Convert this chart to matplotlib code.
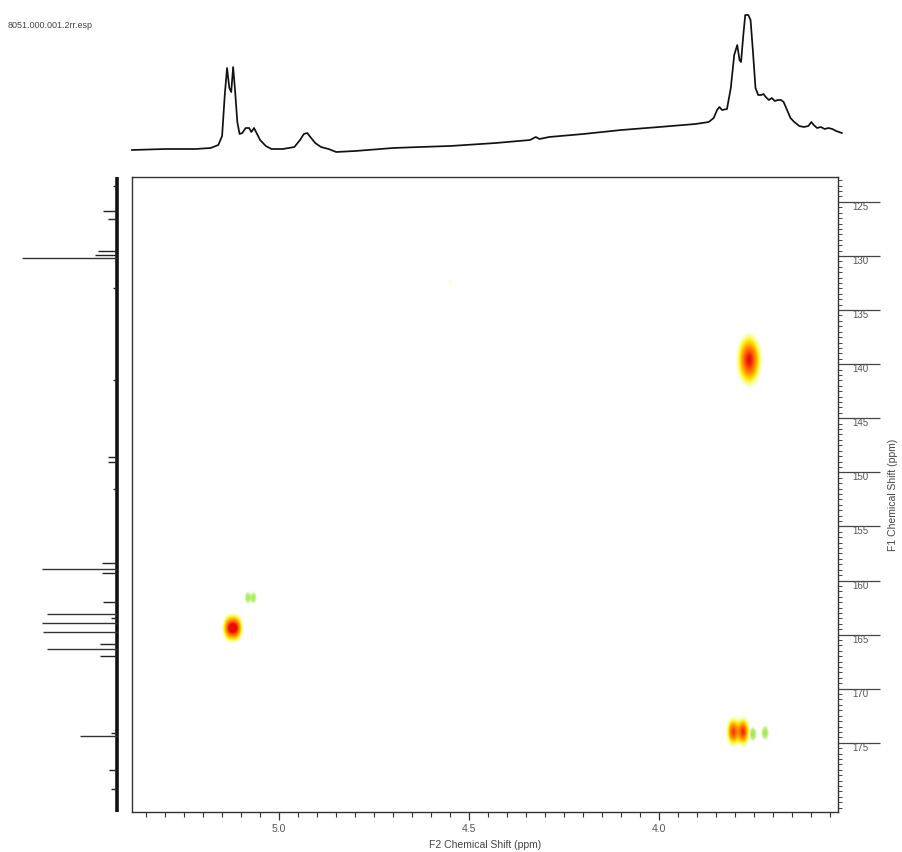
import numpy as np
import matplotlib
matplotlib.use('Agg')
import matplotlib.pyplot as plt
from matplotlib.colors import LinearSegmentedColormap
from matplotlib.ticker import FixedLocator, MultipleLocator

plt.rcParams['font.family'] = ['Liberation Sans', 'DejaVu Sans']

title = "8051.000.001.2rr.esp"
f2_label = "F2 Chemical Shift (ppm)"
f1_label = "F1 Chemical Shift (ppm)"

f2_ticks = [5.0, 4.5, 4.0]
f1_ticks = [125, 130, 135, 140, 145, 150, 155, 160, 165, 170, 175]
f2_range = (5.387, 3.530)
f1_range = (181.4, 122.7)

# top 1D (F2) trace
h_ppm = [5.387, 5.30, 5.22, 5.18, 5.16, 5.15, 5.143, 5.137, 5.131, 5.126,
         5.121, 5.116, 5.110, 5.104, 5.097, 5.088, 5.079, 5.073, 5.066, 5.058,
         5.05, 5.035, 5.02, 4.99, 4.96, 4.945, 4.935, 4.926, 4.918, 4.905,
         4.89, 4.87, 4.85, 4.80, 4.70, 4.63, 4.55, 4.43, 4.34, 4.325,
         4.315, 4.29, 4.20, 4.10, 4.00, 3.905, 3.87, 3.857, 3.848, 3.842,
         3.835, 3.822, 3.812, 3.803, 3.795, 3.789, 3.785, 3.779, 3.774, 3.766,
         3.760, 3.754, 3.747, 3.740, 3.732, 3.726, 3.720, 3.712, 3.704, 3.696,
         3.688, 3.680, 3.673, 3.664, 3.655, 3.645, 3.632, 3.62, 3.608, 3.600,
         3.594, 3.585, 3.575, 3.565, 3.555, 3.545, 3.535, 3.52]
h_int = [0, 1, 1, 2, 5, 14, 55, 82, 62, 58,
         83, 60, 28, 16, 17, 22, 22, 18, 22, 16,
         10, 4, 1, 1, 3, 10, 16, 17, 13, 7,
         3, 1, -2, -1, 2, 3, 4, 7, 10, 13,
         11, 13, 16, 20, 23, 26, 28, 32, 40, 43,
         40, 41, 62, 95, 105, 90, 88, 115, 135, 135,
         130, 100, 62, 55, 55, 56, 53, 50, 52, 49,
         50, 50, 48, 40, 32, 28, 24, 23, 24, 28,
         25, 22, 23, 21, 22, 21, 19, 17]

# left 1D (F1) trace: line positions and heights
c_ppm = [130.2, 158.9, 163.1, 163.9, 164.8, 166.3, 174.4]
c_int = [95, 75, 70, 75, 74, 70, 37]
c_small_ppm = [123.5, 125.8, 126.6, 129.5, 129.9, 133.0, 141.5, 148.6, 149.0,
               151.5, 158.4, 159.3, 162.0, 163.5, 165.9, 167.0, 174.1, 177.5, 179.3]
c_small_int = [4, 14, 9, 19, 22, 4, 4, 9, 9, 4, 15, 15, 14, 6, 17, 17, 6, 8, 6]

# 2D cross peaks
peak_f2 = [5.131, 5.115, 3.763, 3.805, 3.779, 4.55]
peak_f1 = [164.4, 164.4, 139.6, 174.0, 174.0, 132.4]
peak_amp = [0.85, 0.9, 1.0, 0.85, 0.9, 0.11]
peak_sx = [0.0095, 0.0095, 0.0155, 0.0088, 0.0088, 0.004]
peak_sy = [0.6, 0.6, 1.15, 0.65, 0.65, 0.3]

weak_f2 = [5.083, 5.068, 3.753, 3.721]
weak_f1 = [161.6, 161.6, 174.2, 174.1]
weak_amp = [0.7, 0.7, 0.8, 0.8]
weak_sx = [0.005, 0.005, 0.006, 0.006]
weak_sy = [0.35, 0.35, 0.4, 0.4]

W, H = 902, 852
fig = plt.figure(figsize=(W / 100, H / 100), dpi=100)


def rect(x0, y0, x1, y1):
    return [x0 / W, 1 - y1 / H, (x1 - x0) / W, (y1 - y0) / H]


ax = fig.add_axes(rect(132, 177, 838, 812))
axt = fig.add_axes(rect(132, 10, 838, 155), sharex=ax)
axl = fig.add_axes(rect(12, 177, 125, 812), sharey=ax)

# 2D map
gx = np.linspace(3.50, 5.40, 900)
gy = np.linspace(122.0, 182.0, 900)
X, Y = np.meshgrid(gx, gy)


def field(f2, f1, amp, sx, sy):
    Z = np.zeros_like(X)
    for a, b, c, d, e in zip(f2, f1, amp, sx, sy):
        Z += c * np.exp(-0.5 * ((X - a) / d) ** 2 - 0.5 * ((Y - b) / e) ** 2)
    return Z


Zm = field(peak_f2, peak_f1, peak_amp, peak_sx, peak_sy)
Zw = field(weak_f2, weak_f1, weak_amp, weak_sx, weak_sy)

cmap_main = LinearSegmentedColormap.from_list('main', [
    (0.0, (1, 1, 0.7, 0.0)),
    (0.06, (1, 1, 0.55, 0.0)),
    (0.13, (0.95, 1, 0.45, 0.55)),
    (0.28, (1, 0.93, 0.0, 1)),
    (0.5, (1, 0.62, 0.0, 1)),
    (0.78, (1, 0.33, 0.0, 1)),
    (1.0, (0.9, 0.05, 0.0, 1))])
cmap_weak = LinearSegmentedColormap.from_list('weak', [
    (0.0, (0.7, 0.95, 0.4, 0.0)),
    (0.15, (0.7, 0.95, 0.4, 0.0)),
    (0.4, (0.65, 0.92, 0.3, 0.7)),
    (1.0, (0.55, 0.88, 0.15, 1))])

ext = (gx[0], gx[-1], gy[0], gy[-1])
ax.imshow(Zw, extent=ext, origin='lower', aspect='auto', cmap=cmap_weak,
          vmin=0, vmax=1, interpolation='bilinear', zorder=1)
ax.imshow(Zm, extent=ext, origin='lower', aspect='auto', cmap=cmap_main,
          vmin=0, vmax=1, interpolation='bilinear', zorder=2)

ax.set_xlim(*f2_range)
ax.set_ylim(*f1_range)

for s in ax.spines.values():
    s.set_linewidth(1.0)
    s.set_color('#333333')

ax.xaxis.set_major_locator(FixedLocator(f2_ticks))
ax.xaxis.set_minor_locator(MultipleLocator(0.05))
ax.set_xticklabels([f"{v:.1f}" for v in f2_ticks])
ax.tick_params(axis='x', which='major', direction='out', length=6, width=0.9,
               color='#333333', labelsize=7.5, labelcolor='#555555', pad=3)
ax.tick_params(axis='x', which='minor', direction='out', length=3.5, width=0.8,
               color='#333333')

ax.yaxis.tick_right()
ax.yaxis.set_label_position('right')
ax.yaxis.set_major_locator(FixedLocator(f1_ticks))
ax.yaxis.set_minor_locator(MultipleLocator(0.5))
ax.set_yticklabels([str(v) for v in f1_ticks])
ax.tick_params(axis='y', which='major', direction='out', length=30, width=0.9,
               color='#444444', labelsize=7, labelcolor='#555555', pad=-20)
ax.tick_params(axis='y', which='minor', direction='out', length=3, width=0.7,
               color='#444444')
for lbl in ax.get_yticklabels():
    lbl.set_verticalalignment('top')

ax.set_xlabel(f2_label, fontsize=7.5, color='#444444', labelpad=4)
ax.set_ylabel(f1_label, fontsize=7.5, color='#444444', labelpad=6, rotation=90)

# top trace
axt.plot(h_ppm, h_int, color='#111111', lw=1.25, clip_on=False)
axt.set_ylim(-5, 140)
axt.axis('off')

# left trace
axl.axvline(0, color='#111111', lw=2.6)
axl.hlines(c_ppm, 0, c_int, color='#333333', lw=1.0)
axl.hlines(c_small_ppm, 0, c_small_int, color='#222222', lw=1.0)
axl.set_xlim(105, -8)
axl.axis('off')

fig.text(8 / W, 1 - 26 / H, title, fontsize=6.5, color='#444444', va='center')

fig.savefig('out.png', dpi=100)
